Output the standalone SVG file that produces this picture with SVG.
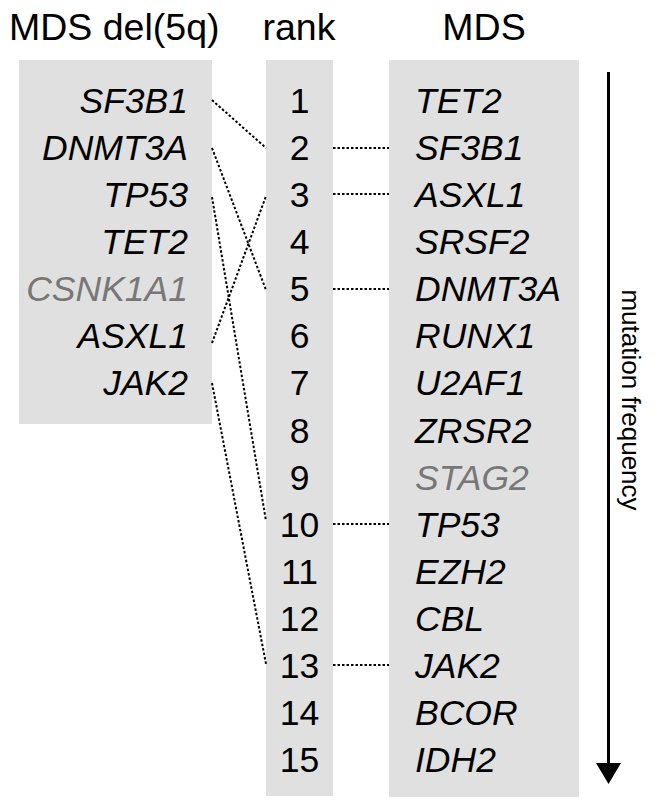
<svg xmlns="http://www.w3.org/2000/svg" width="659" height="811" viewBox="0 0 659 811">
<style>
.box{fill:#e0e0e0}
.hdr{font-family:"Liberation Sans",Arial,sans-serif;font-size:37.5px;fill:#000}
.gene{font-family:"Liberation Sans",Arial,sans-serif;font-size:35.5px;font-style:italic;fill:#000}
.gray{fill:#777}
.num{font-family:"Liberation Sans",Arial,sans-serif;font-size:35.5px;fill:#000;text-anchor:middle}
.dot{stroke:#000;stroke-width:2;stroke-dasharray:2.5,2;fill:none}
.lbl{font-family:"Liberation Sans",Arial,sans-serif;font-size:26px;fill:#000}
</style>
<g id="headers">
<text class="hdr" x="9" y="40">MDS del(5q)</text>
<text class="hdr" x="299" y="40" text-anchor="middle">rank</text>
<text class="hdr" x="484" y="40" text-anchor="middle">MDS</text>
</g>
<g id="del5q">
<rect class="box" x="19" y="60" width="193" height="364"/>
<g class="gene" text-anchor="end">
<text x="188" y="113">SF3B1</text>
<text x="188" y="160">DNMT3A</text>
<text x="188" y="207">TP53</text>
<text x="188" y="254">TET2</text>
<text x="188" y="301" class="gray">CSNK1A1</text>
<text x="188" y="348">ASXL1</text>
<text x="188" y="395">JAK2</text>
</g>
</g>
<g id="rank">
<rect class="box" x="266" y="60" width="67" height="736"/>
<g class="num">
<text x="299.5" y="113">1</text>
<text x="299.5" y="160">2</text>
<text x="299.5" y="207">3</text>
<text x="299.5" y="254">4</text>
<text x="299.5" y="301">5</text>
<text x="299.5" y="348">6</text>
<text x="299.5" y="395">7</text>
<text x="299.5" y="443">8</text>
<text x="299.5" y="490">9</text>
<text x="299.5" y="537">10</text>
<text x="299.5" y="584">11</text>
<text x="299.5" y="631">12</text>
<text x="299.5" y="678">13</text>
<text x="299.5" y="725">14</text>
<text x="299.5" y="772">15</text>
</g>
</g>
<g id="mds">
<rect class="box" x="389" y="60" width="190" height="737"/>
<g class="gene">
<text x="415" y="113">TET2</text>
<text x="415" y="160">SF3B1</text>
<text x="415" y="207">ASXL1</text>
<text x="415" y="254">SRSF2</text>
<text x="415" y="301">DNMT3A</text>
<text x="415" y="348">RUNX1</text>
<text x="415" y="395">U2AF1</text>
<text x="415" y="443">ZRSR2</text>
<text x="415" y="490" class="gray">STAG2</text>
<text x="415" y="537">TP53</text>
<text x="415" y="584">EZH2</text>
<text x="415" y="631">CBL</text>
<text x="415" y="678">JAK2</text>
<text x="415" y="725">BCOR</text>
<text x="415" y="772">IDH2</text>
</g>
</g>
<g id="connectors">
<line class="dot" x1="212" y1="100" x2="266" y2="148"/>
<line class="dot" x1="212" y1="148" x2="266" y2="290"/>
<line class="dot" x1="212" y1="197" x2="266" y2="521"/>
<line class="dot" x1="212" y1="343" x2="266" y2="196"/>
<line class="dot" x1="212" y1="383" x2="266" y2="664"/>
<line class="dot" x1="333" y1="148" x2="389" y2="148"/>
<line class="dot" x1="333" y1="194" x2="389" y2="194"/>
<line class="dot" x1="333" y1="289" x2="389" y2="289"/>
<line class="dot" x1="333" y1="524" x2="389" y2="524"/>
<line class="dot" x1="333" y1="665" x2="389" y2="665"/>
</g>
<g id="axis">
<line x1="608.5" y1="72" x2="608.5" y2="765" stroke="#000" stroke-width="3"/>
<polygon points="596,763 621,763 608.5,784" fill="#000"/>
<text class="lbl" transform="translate(622,400) rotate(90)" text-anchor="middle">mutation frequency</text>
</g>
</svg>
